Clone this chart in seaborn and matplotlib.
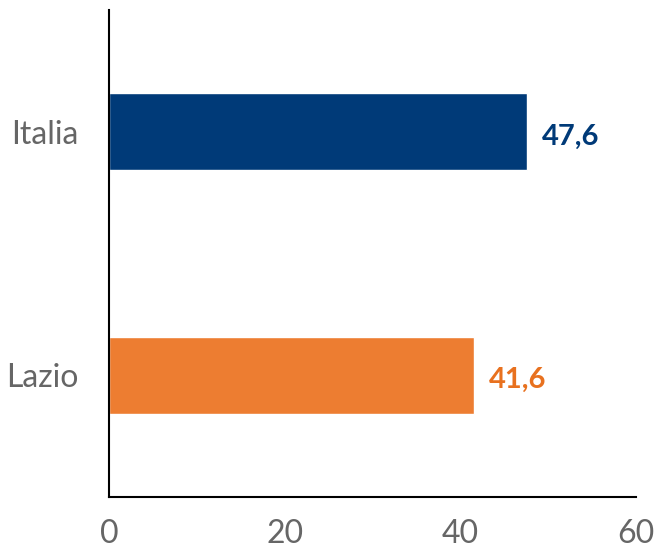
import matplotlib
matplotlib.use("Agg")
import matplotlib.pyplot as plt
import seaborn as sns
import pandas as pd

categories = ["Italia", "Lazio"]
values = [47.6, 41.6]
value_labels = ["47,6", "41,6"]
colors = ["#003A78", "#ED7D31"]
label_colors = ["#003A78", "#E8711F"]
xticks = [0, 20, 40, 60]

sns.set_theme(style="white")
plt.rcParams['font.family'] = ['Lato', 'DejaVu Sans']

df = pd.DataFrame({"cat": categories, "val": values})

fig = plt.figure(figsize=(6.55, 5.49), dpi=100)
ax = fig.add_axes([0.1664, 0.0947, 0.8046, 0.8871])
sns.barplot(data=df, x="val", y="cat", hue="cat", palette=colors, orient="h",
            width=0.315, legend=False, ax=ax, saturation=1)

ax.set_xlim(0, 60)
ax.set_ylim(1.5, -0.5)
ax.set_xticks(xticks)
ax.set_xticklabels([str(t) for t in xticks])
ax.set_yticks([0, 1])
ax.set_yticklabels(categories)
ax.set_xlabel("")
ax.set_ylabel("")
for s in ["top", "right"]:
    ax.spines[s].set_visible(False)
for s in ["left", "bottom"]:
    ax.spines[s].set_color("black")
    ax.spines[s].set_linewidth(1.5)
ax.tick_params(axis="x", direction="out", length=8, width=1.5, color="black",
               labelsize=23, labelcolor="#666666", pad=8)
ax.tick_params(axis="y", length=0, labelsize=23, labelcolor="#666666", pad=22)

for i, (v, lab, c) in enumerate(zip(values, value_labels, label_colors)):
    ax.text(v + 1.7, i + 0.02, lab, va="center", ha="left", fontsize=21,
            fontweight="bold", color=c)

fig.savefig("out.png", dpi=100)
